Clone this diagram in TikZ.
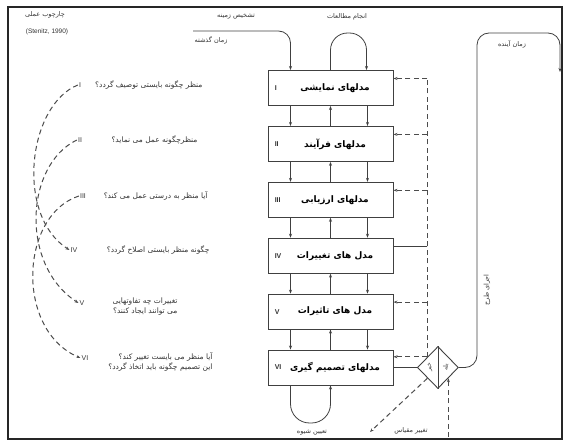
\documentclass[tikz,border=0pt]{standalone}
\usepackage{fontspec}
\setmainfont{Liberation Sans}
\newfontfamily\fafont[Script=Arabic]{DejaVu Sans}
\TeXXeTstate=1
\usetikzlibrary{positioning,shapes.geometric,arrows.meta,calc}
\newcommand{\fa}[1]{{\fafont\beginR #1\endR}}
\newcommand{\mtext}[1]{\hspace*{9pt}\fa{#1}}

\tikzset{
  modelbox/.style={draw=black!75, line width=0.9pt, minimum width=125pt, minimum height=35pt,
    inner sep=0pt, font=\fafont\bfseries\fontsize{9}{11}\selectfont},
  linkline/.style={black!75, line width=0.8pt, -{Stealth[length=4pt,width=3pt]}},
  dashline/.style={black!70, line width=1pt, dash pattern=on 5pt off 3.5pt},
  question/.style={font=\fafont\fontsize{7.5}{10}\selectfont, anchor=east, align=right, text=black!80},
  numeral/.style={font=\fontsize{7}{8}\selectfont, text=black!80, inner sep=1pt},
  smalllabel/.style={font=\fafont\fontsize{6.5}{8}\selectfont, text=black!80},
}

\begin{document}
\begin{tikzpicture}[x=1pt, y=-1pt]
    \useasboundingbox (0,0) rectangle (565,441);
    % Rahmen
    \draw[black!85, line width=1.6pt] (8,7) rectangle (562,439);
    \node[smalllabel] (title) at (45,15) {\fa{چارچوب عملی}};
    \node[font=\fontsize{6.5}{8}\selectfont, text=black!80] (source) at (47,32) {(Stenitz, 1990)};

    % Modelle
    \node[modelbox] (m1) at (330.5,88) {\mtext{مدلهای نمایشی}};
    \node[modelbox, below=20pt of m1] (m2) {\mtext{مدلهای فرآیند}};
    \node[modelbox, below=20pt of m2] (m3) {\mtext{مدلهای ارزیابی}};
    \node[modelbox, below=20pt of m3] (m4) {\mtext{مدل های تغییرات}};
    \node[modelbox, below=20pt of m4] (m5) {\mtext{مدل های تاثیرات}};
    \node[modelbox, below=20pt of m5] (m6) {\mtext{مدلهای تصمیم گیری}};
    \foreach \m/\r in {m1/I, m2/II, m3/III, m4/IV, m5/V, m6/VI}
        \node[numeral, font=\bfseries\fontsize{7}{8}\selectfont, anchor=west] (\m r) at ([xshift=6pt]\m.west) {\r};

    % Verbindungen zwischen den Modellen
    \foreach \a/\b in {m1/m2, m2/m3, m3/m4, m4/m5, m5/m6}{
        \draw[linkline] ($(\a.south)+(-40,0)$) -- ($(\b.north)+(-40,0)$);
        \draw[linkline] (\b.north) -- (\a.south);
        \draw[linkline] ($(\a.south)+(37,0)$) -- ($(\b.north)+(37,0)$);
    }

    % Oben: Vergangenheit und Studien
    \coordinate (past) at (193,31);
    \coordinate (m1l) at ($(m1.north)+(-40,0)$);
    \coordinate (m1s) at ($(m1.north)+(36,0)$);
    \draw[linkline, rounded corners=12pt] (past) -- (m1l |- past) -- (m1l);
    \draw[linkline, rounded corners=17pt] (m1.north) -- (m1.north |- 0,33) -- (m1s |- 0,33) -- (m1s);
    \node[smalllabel] (context) at (236,16) {\fa{تشخیص زمینه}};
    \node[smalllabel] (pastlb) at (211,40) {\fa{زمان گذشته}};
    \node[smalllabel] (study) at (347,17) {\fa{انجام مطالعات}};

    % Unten: Methode
    \coordinate (m6l) at ($(m6.south)+(-40,0)$);
    \draw[linkline, rounded corners=19pt] (m6l) -- (m6l |- 0,423) -- (m6.south |- 0,423) -- (m6.south);
    \node[smalllabel] (method) at (312,432) {\fa{تعیین شیوه}};

    % Entscheidung
    \node[diamond, draw=black!75, line width=0.9pt, minimum width=41pt, minimum height=42pt,
        inner sep=0pt, right=23.5pt of m6] (dec) {};
    \draw[black!75, line width=0.8pt] (dec.north) -- (dec.south);
    \node[smalllabel, font=\fafont\fontsize{6}{7}\selectfont, rotate=90] (no) at ($(dec.center)+(-8,0)$) {\fa{خیر}};
    \node[smalllabel, font=\fafont\fontsize{6}{7}\selectfont, rotate=90] (yes) at ($(dec.center)+(8,0)$) {\fa{بله}};
    \draw[black!75, line width=0.8pt] (m6.east) -- (dec.west);

    % Rueckkopplung (gestrichelt)
    \coordinate (dtop) at ($(dec.north west |- m1.east)+(0,-9.5)$);
    \draw[dashline] (dec.north west) -- (dtop);
    \foreach \m in {m1, m2, m3, m5}
        \draw[dashline, -{Stealth[length=4pt,width=3pt]}] ($(dtop |- \m.east)+(0,-9.5)$) -- ($(\m.east)+(0,-9.5)$);
    \draw[black!75, line width=0.8pt] ($(dtop |- m4.east)+(0,-9.5)$) -- ($(m4.east)+(0,-9.5)$);
    \draw[dashline, -{Stealth[length=4pt,width=3pt]}] (dec.north west) -- (dec.north west -| m6.east);

    % Zukunft
    \coordinate (impl) at (477,33);
    \coordinate (fut) at (560,72);
    \draw[linkline, rounded corners=12pt] (dec.east) -- (impl |- dec.east) -- (impl) -- (impl -| fut) -- (fut);
    \node[smalllabel] (futlb) at (512,44) {\fa{زمان آینده}};
    \node[smalllabel, rotate=90] (impllb) at (487,290) {\fa{اجرای طرح}};

    % Massstab
    \coordinate (scl) at (370,432);
    \draw[dashline, -{Stealth[length=4pt,width=3pt]}] (dec.south west) -- (scl);
    \node[smalllabel] (scllb) at (411,431) {\fa{تغییر مقیاس}};
    \coordinate (chg) at (dec.south east |- 0,437);
    \draw[dashline, -{Stealth[length=4pt,width=3pt]}] (chg) -- (dec.south east);

    % Fragen
    \node[numeral] (n1) at (80,85) {I};
    \node[numeral] (n2) at (80,140) {II};
    \node[numeral] (n3) at (83,196) {III};
    \node[numeral] (n4) at (74,250) {IV};
    \node[numeral] (n5) at (82,303) {V};
    \node[numeral] (n6) at (85,358) {VI};
    \node[question] (q1) at (206,85) {\fa{منظر چگونه بایستی توصیف گردد؟}};
    \node[question] (q2) at (201,140) {\fa{منظرچگونه عمل می نماید؟}};
    \node[question] (q3) at (211,196) {\fa{آیا منظر به درستی عمل می کند؟}};
    \node[question] (q4) at (213,250) {\fa{چگونه منظر بایستی اصلاح گردد؟}};
    \node[question] (q5) at (181,307) {\fa{تغییرات چه تفاوتهایی}\\\fa{می توانند ایجاد کنند؟}};
    \node[question] (q6) at (216,362) {\fa{آیا منظر می بایست تغییر کند؟}\\\fa{این تصمیم چگونه باید اتخاذ گردد؟}};
    \draw[dashline, -{Stealth[length=4pt,width=3pt]}] (n1.west) .. controls (28,105) and (15,215) .. (n4.west);
    \draw[dashline, -{Stealth[length=4pt,width=3pt]}] (n2.west) .. controls (25,165) and (20,265) .. (n5.west);
    \draw[dashline, -{Stealth[length=4pt,width=3pt]}] (n3.west) .. controls (20,215) and (15,330) .. (n6.west);
\end{tikzpicture}
\end{document}
